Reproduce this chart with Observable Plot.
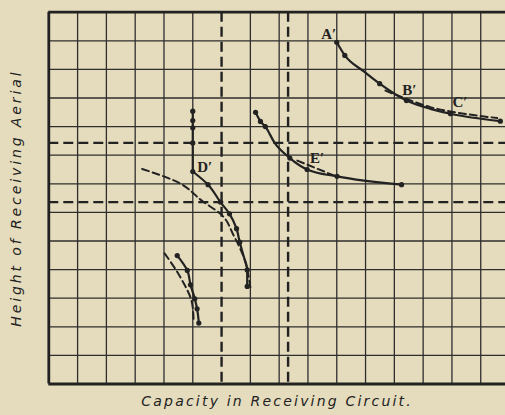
<!DOCTYPE html>
<html><head><meta charset="utf-8">
<script src="https://cdn.jsdelivr.net/npm/d3@7"></script>
<script src="https://cdn.jsdelivr.net/npm/@observablehq/plot@0.6"></script>
<style>
html,body{margin:0;padding:0;background:#e5dcbd;}
svg{display:block;}
</style></head><body><div id="chart"></div>
<script>
// grid (in squares of the ruled paper)
const gridX = [1,2,3,4,5,7,8,9,10,11,12,13,14,15,16];
const gridY = [1,2,3,4,5,6,7,8,9,10,11,12];
const borderX = [0];
const borderY = [0, 13];
const dashedX = [6, 8.31];
const dashedY = [8.43, 6.36];

// curve A' B' C'
const abcLine = [[10,11.95],[10.28,11.49],[10.94,10.93],[11.49,10.5],[12.42,9.91],[13.25,9.62],[13.95,9.45],[15.68,9.19]];
const abcDots = [[10,11.95],[10.28,11.49],[11.49,10.5],[12.42,9.91],[13.95,9.45],[15.68,9.19]];
const abcDash = [[11.69,10.26],[12.42,9.97],[13.25,9.68],[14.12,9.5],[15.57,9.3]];

// curve E'
const eLine = [[7.18,9.5],[7.35,9.18],[7.52,9.0],[7.85,8.42],[8.37,7.9],[8.97,7.5],[10.01,7.26],[12.25,6.97]];
const eDots = [[7.18,9.5],[7.35,9.18],[7.52,9.0],[8.37,7.9],[8.97,7.5],[10.01,7.26],[12.25,6.97]];
const eDash = [[8.63,7.81],[9.95,7.27]];

// curve D'
const dStem = [[5,9.54],[5,7.43]];
const dStemDots = [[5,9.54],[5,9.21],[5,8.96],[5,8.43],[5,7.43]];
const dLine = [[5,7.43],[5.53,6.97],[5.96,6.36],[6.275,5.95],[6.52,5.43],[6.63,4.96],[6.77,4.46],[6.89,3.99],[6.89,3.41]];
const dDots = [[5.53,6.97],[5.96,6.36],[6.275,5.95],[6.52,5.43],[6.63,4.96],[6.89,3.99],[6.89,3.41]];
const dDash = [[3.24,7.52],[4.34,7.12],[5.38,6.36],[5.96,5.95],[6.42,5.19],[6.77,4.43],[7.0,3.38]];

// small lower curve
const sLine = [[4.46,4.49],[4.81,3.97],[4.92,3.47],[5.07,2.98],[5.15,2.63],[5.21,2.13]];
const sDots = sLine;
const sDash = [[4.02,4.57],[4.57,3.73],[4.98,2.8],[5.03,2.22]];

const xLabel = "Capacity in Receiving Circuit.";
const yLabel = "Height of Receiving Aerial";

const ink = "#222";
const px = d => d[0], py = d => d[1];
const solid = (data, curve) => Plot.line(data, {x: px, y: py, curve, stroke: ink, strokeWidth: 2.2});
const dashed = (data, curve) => Plot.line(data, {x: px, y: py, curve, stroke: ink, strokeWidth: 2, strokeDasharray: "7,4"});
const dots = (data) => Plot.dot(data, {x: px, y: py, r: 2.6, fill: ink, stroke: "none"});
const letter = (txt, at, dx, dy) => Plot.text([at], {x: px, y: py, text: () => txt, dx, dy,
  fontFamily: "Liberation Serif, serif", fontWeight: "bold", fontSize: 15, fill: ink});

const chart = Plot.plot({
  width: 505, height: 415,
  marginLeft: 48.3, marginRight: 0, marginTop: 11.7, marginBottom: 31.5,
  x: {domain: [0, 15.86], axis: null},
  y: {domain: [0, 13], axis: null},
  style: {background: "#e5dcbd"},
  marks: [
    Plot.ruleX(gridX, {stroke: "#2e2e2e", strokeWidth: 1.3}),
    Plot.ruleY(gridY, {stroke: "#2e2e2e", strokeWidth: 1.3}),
    Plot.ruleX(dashedX, {stroke: ink, strokeWidth: 2.4, strokeDasharray: "10,5"}),
    Plot.ruleY(dashedY, {stroke: ink, strokeWidth: 2.4, strokeDasharray: "10,5"}),
    Plot.ruleX(borderX, {stroke: ink, strokeWidth: 2.8}),
    Plot.ruleY(borderY, {stroke: ink, strokeWidth: 2.8}),
    dashed(abcDash, "monotone-x"), solid(abcLine, "monotone-x"), dots(abcDots),
    dashed(eDash, "linear"), solid(eLine, "monotone-x"), dots(eDots),
    dashed(dDash, "monotone-y"), Plot.line(dStem, {x: px, y: py, stroke: ink, strokeWidth: 2.2}), solid(dLine, "monotone-y"), dots(dStemDots), dots(dDots),
    dashed(sDash, "monotone-y"), solid(sLine, "monotone-y"), dots(sDots),
    letter("A\u2032", abcLine[0], -8, -8.5),
    letter("B\u2032", abcLine[4], 3, -10),
    letter("C\u2032", abcLine[6], 9.5, -12),
    letter("D\u2032", dLine[0], 12, -4),
    letter("E\u2032", eLine[5], 10, -11),
    Plot.text([xLabel], {frameAnchor: "bottom", dy: 22, textAnchor: "middle", text: d => d, fontFamily: "DejaVu Sans", fontStyle: "italic", fontSize: 14, fill: ink}),
    Plot.text([yLabel], {frameAnchor: "left", dx: -32, rotate: -90, textAnchor: "middle", text: d => d, fontFamily: "DejaVu Sans", fontStyle: "italic", fontSize: 14, fill: ink})
  ]
});
d3.select(chart).selectAll("text").each(function() {
  const t = this.textContent;
  if (t === xLabel) d3.select(this).style("letter-spacing", "2.2px");
  if (t === yLabel) d3.select(this).style("letter-spacing", "2.9px");
});
document.getElementById("chart").appendChild(chart);
</script></body></html>
